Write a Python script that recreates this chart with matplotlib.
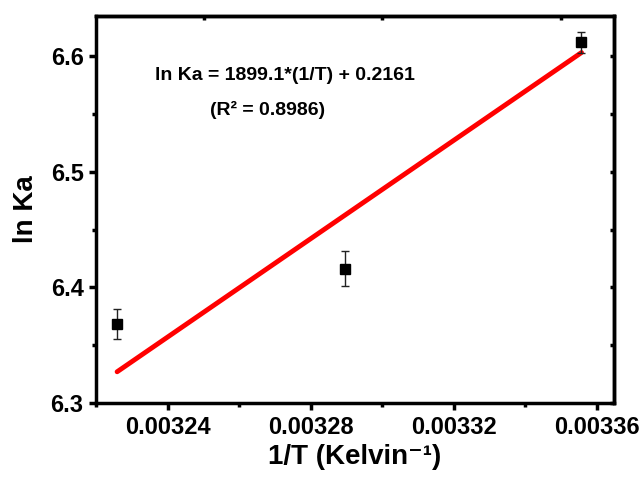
import matplotlib
matplotlib.use("Agg")
import matplotlib.pyplot as plt
from matplotlib.ticker import MultipleLocator, FixedLocator
import numpy as np

plt.rcParams['font.family'] = ['Liberation Sans', 'DejaVu Sans']

# data
inv_T = [1/310.0, 1/304.0, 1/298.0]
ln_Ka = [6.368, 6.416, 6.612]
ln_Ka_err = [0.013, 0.015, 0.009]
fit_x = [1/310.0, 1/298.0]
fit_y = [6.327, 6.603]
x_ticks = [0.00324, 0.00328, 0.00332, 0.00336]
x_tick_labels = ['0.00324', '0.00328', '0.00332', '0.00336']
top_ticks = [0.00325, 0.00330, 0.00335]
y_ticks = [6.3, 6.4, 6.5, 6.6]
y_tick_labels = ['6.3', '6.4', '6.5', '6.6']

fig = plt.figure(figsize=(6.44, 4.79), dpi=100)
ax = fig.add_axes([96/644, 1-403/479, (614-96)/644, (403-16)/479])

ax.plot(fit_x, fit_y, color='#ff0000', lw=3.5, solid_capstyle='round', zorder=2)
ax.errorbar(inv_T, ln_Ka, yerr=ln_Ka_err, fmt='s', color='black', ms=6.5,
            ecolor='#222222', elinewidth=1.0, capsize=3.2, capthick=1.0, zorder=3)

ax.set_xlim(0.0032199, 0.0033648)
ax.set_ylim(6.3, 6.6346)
ax.xaxis.set_major_locator(FixedLocator(x_ticks))
ax.set_xticklabels(x_tick_labels)
ax.xaxis.set_minor_locator(MultipleLocator(0.00002))
ax.yaxis.set_major_locator(FixedLocator(y_ticks))
ax.set_yticklabels(y_tick_labels)
ax.yaxis.set_minor_locator(MultipleLocator(0.05))

for s in ax.spines.values():
    s.set_linewidth(2.5)
ax.tick_params(which='major', direction='out', length=5, width=2.5,
               labelsize=17, pad=4)
ax.tick_params(which='minor', direction='out', length=3, width=2.5)
for lab in ax.get_xticklabels() + ax.get_yticklabels():
    lab.set_fontweight('bold')

# inward ticks on top and right
sx = ax.secondary_xaxis('top')
sx.xaxis.set_major_locator(FixedLocator(top_ticks))
sx.tick_params(which='major', direction='in', length=3, width=2.5, labeltop=False)
sx.spines['top'].set_linewidth(2.5)
sy = ax.secondary_yaxis('right')
sy.yaxis.set_major_locator(FixedLocator(y_ticks))
sy.yaxis.set_minor_locator(MultipleLocator(0.05))
sy.tick_params(which='major', direction='in', length=3, width=2.5, labelright=False)
sy.tick_params(which='minor', direction='in', length=3, width=2.5)
sy.spines['right'].set_linewidth(2.5)

ax.set_xlabel('1/T (Kelvin⁻¹)', fontsize=20, fontweight='bold', labelpad=4)
ax.set_ylabel('ln Ka', fontsize=20, fontweight='bold', labelpad=8)

ax.text(285/644, 1-75/479, 'ln Ka = 1899.1*(1/T) + 0.2161', transform=fig.transFigure,
        ha='center', va='center', fontsize=14, fontweight='bold')
ax.text(268/644, 1-110/479, '(R² = 0.8986)', transform=fig.transFigure,
        ha='center', va='center', fontsize=14, fontweight='bold')

fig.savefig('out.png', dpi=100)
